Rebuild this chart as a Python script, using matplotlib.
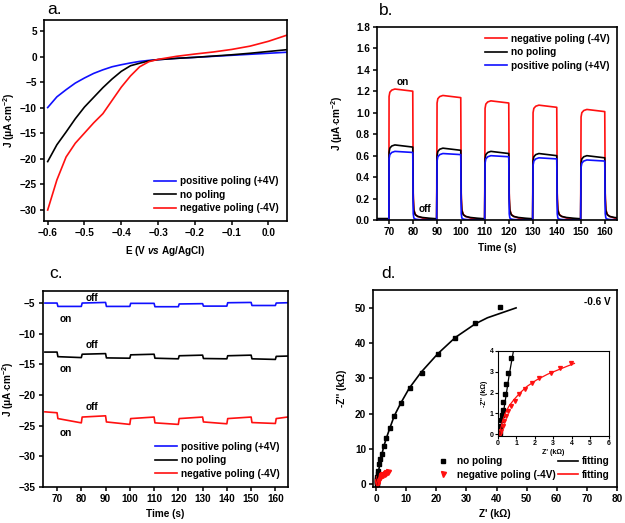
import numpy as np
import matplotlib
matplotlib.use("Agg")
import matplotlib.pyplot as plt

plt.rcParams['font.family'] = ['Liberation Sans', 'DejaVu Sans']
plt.rcParams['font.weight'] = 'bold'
plt.rcParams['axes.labelweight'] = 'bold'
plt.rcParams['mathtext.fontset'] = 'custom'
plt.rcParams['mathtext.rm'] = 'Liberation Sans:bold'
plt.rcParams['mathtext.bf'] = 'Liberation Sans:bold'
plt.rcParams['mathtext.it'] = 'Liberation Sans:bold:italic'
plt.rcParams['mathtext.default'] = 'rm'
plt.rcParams['axes.linewidth'] = 1.2
plt.rcParams['xtick.major.width'] = 1.1
plt.rcParams['ytick.major.width'] = 1.1
plt.rcParams['xtick.major.size'] = 3
plt.rcParams['ytick.major.size'] = 3

BLUE = '#1010ff'
RED = '#ff1010'
BLACK = '#000000'

# ---- panel a : LSV ----
E = [-0.60, -0.575, -0.55, -0.525, -0.50, -0.475, -0.45, -0.425, -0.40, -0.375,
     -0.35, -0.325, -0.30, -0.25, -0.20, -0.15, -0.10, -0.05, 0.00, 0.05]
J_pos = [-10.0, -7.9, -6.5, -5.2, -4.2, -3.3, -2.6, -2.0, -1.6, -1.25,
         -0.95, -0.75, -0.6, -0.35, -0.15, 0.05, 0.25, 0.45, 0.65, 0.85]
J_no = [-20.6, -17.3, -14.8, -12.2, -9.9, -8.0, -6.1, -4.4, -2.9, -1.8,
        -1.3, -0.85, -0.6, -0.35, -0.15, 0.1, 0.35, 0.65, 1.0, 1.35]
J_neg = [-30.1, -24.2, -19.7, -17.0, -15.0, -13.0, -11.2, -8.6, -6.0, -3.8,
         -2.0, -1.0, -0.55, 0.05, 0.5, 0.9, 1.4, 2.05, 3.0, 4.2]

# ---- panel b : chopped light at 0 V ----
t_on = [70, 90, 110, 130, 150]
neg_peak = [1.22, 1.16, 1.11, 1.07, 1.03]
neg_end = [1.20, 1.14, 1.09, 1.05, 1.01]
no_peak = [0.70, 0.67, 0.64, 0.62, 0.60]
no_end = [0.68, 0.65, 0.62, 0.60, 0.58]
pos_peak = [0.64, 0.62, 0.60, 0.58, 0.56]
pos_end = [0.63, 0.61, 0.59, 0.57, 0.55]
rise_dt = [0.08, 0.4, 1.2, 2.5]
rise_off = [-0.07, -0.03, -0.01, 0.0]
tail_dt = [0.15, 0.4, 1.0, 2.0, 4.0, 7.0, 9.9]
neg_tail = [0.25, 0.10, 0.055, 0.035, 0.02, 0.01, 0.006]
no_tail = [0.20, 0.09, 0.05, 0.035, 0.025, 0.018, 0.013]
pos_tail = [0.06, 0.02, 0.01, 0.006, 0.004, 0.003, 0.002]
dark_start = {'neg': 0.008, 'no': 0.015, 'pos': 0.003}

# ---- panel c : chopped light at -0.6 V ----
seg_t = [65, 70, 80, 90, 100, 110, 120, 130, 140, 150, 160, 165]
pos_c_start = [-5.0, -5.55, -5.0, -5.55, -5.05, -5.6, -5.15, -5.5, -4.95, -5.4, -5.0]
pos_c_end = [-5.0, -5.55, -4.9, -5.55, -5.05, -5.6, -5.1, -5.5, -4.9, -5.4, -4.95]
no_c_start = [-13.0, -13.75, -13.35, -13.95, -13.45, -14.0, -13.6, -14.05, -13.6, -14.1, -13.7]
no_c_end = [-13.0, -13.9, -13.25, -14.0, -13.35, -14.1, -13.5, -14.1, -13.5, -14.2, -13.65]
neg_c_start = [-22.75, -23.85, -23.6, -24.4, -23.85, -24.55, -23.85, -24.4, -23.85, -24.5, -23.85]
neg_c_end = [-22.9, -24.55, -23.4, -24.8, -23.6, -24.8, -23.6, -24.7, -23.6, -24.65, -23.6]

# ---- panel d : Nyquist ----
nop_x = [41.0, 33.0, 26.3, 20.5, 15.2, 11.2, 8.3, 6.1, 4.6, 3.3, 2.5, 1.9, 1.4, 1.05,
         0.72, 0.56, 0.47, 0.38, 0.32, 0.27, 0.23, 0.20, 0.16, 0.14]
nop_y = [50.2, 45.7, 41.5, 36.8, 31.5, 27.3, 23.0, 19.2, 15.8, 13.0, 10.7, 8.6, 7.0, 5.6,
         3.68, 2.96, 2.4, 1.92, 1.52, 1.17, 0.93, 0.69, 0.37, 0.05]
neg_x = [3.95, 3.38, 2.89, 2.26, 1.85, 1.49, 1.18, 0.95, 0.74, 0.59, 0.47, 0.36, 0.27, 0.20, 0.14]
neg_y = [3.41, 3.17, 2.96, 2.72, 2.48, 2.16, 1.92, 1.60, 1.36, 1.12, 0.88, 0.64, 0.40, 0.16, 0.0]
fit_k_x = [0.13, 0.40, 0.64, 0.86, 1.5, 2.5, 3.5, 4.6, 6.0, 8.2, 11.0, 15.0, 20.5, 26.3, 33.0, 37.0, 46.5]
fit_k_y = [0.0, 1.5, 2.9, 4.0, 6.9, 10.6, 13.3, 16.0, 19.3, 23.0, 27.2, 31.8, 37.0, 41.6, 45.5, 47.2, 50.0]
fit_r_x = [0.12, 0.18, 0.28, 0.42, 0.62, 0.88, 1.2, 1.6, 2.1, 2.7, 3.3, 3.8, 4.15]
fit_r_y = [0.0, 0.3, 0.65, 1.0, 1.35, 1.65, 1.97, 2.3, 2.6, 2.88, 3.1, 3.28, 3.4]

FS = 7.2
jlabel = r'J ($\mu$A$\cdot$cm$^{-2}$)'

fig = plt.figure(figsize=(6.25, 5.23), dpi=100)


def style(ax):
    ax.tick_params(labelsize=FS, pad=2)
    for lab in ax.get_xticklabels() + ax.get_yticklabels():
        lab.set_fontweight('bold')


def panel_label(x, y, s):
    fig.text(x, y, s, fontsize=12.5, fontweight='normal', va='baseline', ha='left')


# a.
ax1 = fig.add_axes([0.0704, 0.577, 0.3886, 0.385])
ax1.plot(E, J_pos, color=BLUE, lw=1.2, label='positive poling (+4V)')
ax1.plot(E, J_no, color=BLACK, lw=1.2, label='no poling')
ax1.plot(E, J_neg, color=RED, lw=1.2, label='negative poling (-4V)')
ax1.set_xlim(-0.61, 0.05)
ax1.set_ylim(-32.3, 7.2)
ax1.set_xticks([-0.6, -0.5, -0.4, -0.3, -0.2, -0.1, 0.0])
ax1.set_yticks(range(-30, 6, 5))
ax1.set_xlabel(r'E (V $\mathit{vs}$ Ag/AgCl)', fontsize=FS, labelpad=4)
ax1.set_ylabel(jlabel, fontsize=FS, labelpad=2)
style(ax1)
ax1.legend(loc='lower right', frameon=False, fontsize=FS, handlelength=2.2,
           handletextpad=0.4, labelspacing=0.35, borderaxespad=0.4)
panel_label(0.076, 0.973, 'a.')


# b.
def chop_trace(peaks, ends, tail, d0):
    t = [65.0, 70.0]
    j = [d0, d0]
    for k in range(len(t_on)):
        for dt, off in zip(rise_dt, rise_off):
            t.append(t_on[k] + dt)
            j.append(peaks[k] + off)
        t.append(t_on[k] + 9.95)
        j.append(ends[k])
        for dt, v in zip(tail_dt, tail):
            t.append(t_on[k] + 10 + dt)
            j.append(v)
    return t, j


ax2 = fig.add_axes([0.603, 0.579, 0.384, 0.370])
tb, jb = chop_trace(neg_peak, neg_end, neg_tail, dark_start['neg'])
ax2.plot(tb, jb, color=RED, lw=1.2, label='negative poling (-4V)')
tb, jb = chop_trace(no_peak, no_end, no_tail, dark_start['no'])
ax2.plot(tb, jb, color=BLACK, lw=1.2, label='no poling')
tb, jb = chop_trace(pos_peak, pos_end, pos_tail, dark_start['pos'])
ax2.plot(tb, jb, color=BLUE, lw=1.2, label='positive poling (+4V)')
ax2.set_xlim(65, 165)
ax2.set_ylim(0, 1.8)
ax2.set_xticks(range(70, 161, 10))
ax2.set_yticks(np.arange(0, 1.81, 0.2))
ax2.yaxis.set_major_formatter(matplotlib.ticker.FormatStrFormatter('%.1f'))
ax2.set_xlabel('Time (s)', fontsize=FS, labelpad=4)
ax2.set_ylabel(jlabel, fontsize=FS, labelpad=8)
style(ax2)
ax2.legend(loc='upper right', frameon=False, fontsize=FS, handlelength=2.2,
           handletextpad=0.4, labelspacing=0.35, borderaxespad=0.3)
ax2.text(75.8, 1.29, 'on', fontsize=FS, ha='center', va='center')
ax2.text(85.2, 0.10, 'off', fontsize=FS, ha='center', va='center')
panel_label(0.607, 0.971, 'b.')


# c.
def step_trace(starts, ends):
    t = [seg_t[0]]
    j = [starts[0]]
    for k in range(len(starts)):
        if k > 0:
            t.append(seg_t[k] + 0.35)
            j.append(starts[k])
        t.append(seg_t[k + 1])
        j.append(ends[k])
    return t, j


ax3 = fig.add_axes([0.068, 0.069, 0.392, 0.375])
tc, jc = step_trace(pos_c_start, pos_c_end)
ax3.plot(tc, jc, color=BLUE, lw=1.2, label='positive poling (+4V)')
tc, jc = step_trace(no_c_start, no_c_end)
ax3.plot(tc, jc, color=BLACK, lw=1.2, label='no poling')
tc, jc = step_trace(neg_c_start, neg_c_end)
ax3.plot(tc, jc, color=RED, lw=1.2, label='negative poling (-4V)')
ax3.set_xlim(64, 165)
ax3.set_ylim(-35, -3)
ax3.set_xticks(range(70, 161, 10))
ax3.set_yticks(range(-35, -4, 5))
ax3.set_xlabel('Time (s)', fontsize=FS, labelpad=4)
ax3.set_ylabel(jlabel, fontsize=FS, labelpad=2)
style(ax3)
ax3.legend(loc='lower right', frameon=False, fontsize=FS, handlelength=2.2,
           handletextpad=0.4, labelspacing=0.35, borderaxespad=0.4)
for ty_off, ty_on in [(-4.2, -7.6), (-11.9, -15.7), (-21.9, -26.2)]:
    ax3.text(84.4, ty_off, 'off', fontsize=FS, ha='center', va='center')
    ax3.text(73.7, ty_on, 'on', fontsize=FS, ha='center', va='center')
panel_label(0.078, 0.468, 'c.')

# d.
ax4 = fig.add_axes([0.597, 0.069, 0.390, 0.376])
h1, = ax4.plot(nop_x, nop_y, 's', color=BLACK, ms=3.2, ls='none')
h2, = ax4.plot(neg_x, neg_y, 'v', color=RED, ms=3.6, ls='none')
h3, = ax4.plot(fit_k_x, fit_k_y, color=BLACK, lw=1.2)
h4, = ax4.plot(fit_r_x, fit_r_y, color=RED, lw=1.2)
ax4.set_xlim(-1, 80)
ax4.set_ylim(-0.8, 55)
ax4.set_xticks(range(0, 81, 10))
ax4.set_yticks(range(0, 51, 10))
ax4.set_xlabel("Z' (k\u03a9)", fontsize=FS, labelpad=4)
ax4.set_ylabel("-Z'' (k\u03a9)", fontsize=FS, labelpad=6)
style(ax4)
ax4.legend([h1, h2, h3, h4], ['no poling', 'negative poling (-4V)', 'fitting', 'fitting'],
           ncol=2, loc='lower right', frameon=False, fontsize=FS, handlelength=2.0,
           handletextpad=0.4, labelspacing=0.35, columnspacing=0.2, borderaxespad=0.3)
ax4.text(0.975, 0.94, '-0.6 V', transform=ax4.transAxes, fontsize=FS,
         ha='right', va='center')
panel_label(0.610, 0.468, 'd.')

# inset
ax5 = fig.add_axes([0.796, 0.166, 0.178, 0.163])
ax5.plot(nop_x, nop_y, 's', color=BLACK, ms=2.2, ls='none')
ax5.plot(neg_x, neg_y, 'v', color=RED, ms=2.8, ls='none')
ax5.plot(fit_k_x, fit_k_y, color=BLACK, lw=0.9)
ax5.plot(fit_r_x, fit_r_y, color=RED, lw=0.9)
ax5.set_xlim(0, 6)
ax5.set_ylim(-0.1, 4)
ax5.set_xticks(range(0, 7))
ax5.set_yticks(range(0, 5))
ax5.tick_params(labelsize=5, length=2, width=0.8, pad=1)
for lab in ax5.get_xticklabels() + ax5.get_yticklabels():
    lab.set_fontweight('bold')
for sp in ax5.spines.values():
    sp.set_linewidth(0.8)
ax5.set_xlabel("Z' (k\u03a9)", fontsize=5, labelpad=1)
ax5.set_ylabel("-Z'' (k\u03a9)", fontsize=5, labelpad=1)

fig.savefig('out.png', dpi=100)
